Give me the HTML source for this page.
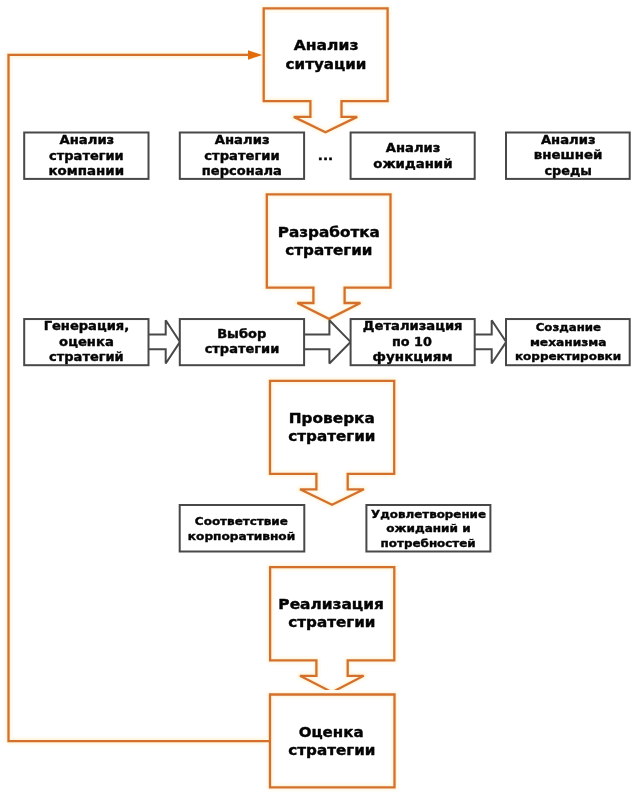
<!DOCTYPE html>
<html lang="ru">
<head>
<meta charset="utf-8">
<title>Стратегия</title>
<style>
html,body{margin:0;padding:0;background:#fff;}
body{width:633px;height:800px;overflow:hidden;}
svg{display:block;will-change:transform;}
text{font-family:"DejaVu Sans", "Liberation Sans", sans-serif;font-weight:bold;fill:#050505;stroke:#050505;stroke-width:0.4px;stroke-linejoin:round;white-space:pre;}
</style>
</head>
<body>
<svg width="633" height="800" viewBox="0 0 633 800">
<path d="M270 741.1 L8.5 741.1 L8.5 54.9 L250 54.9" fill="none" stroke="#fefcf4" stroke-width="9" stroke-linejoin="round"/>
<path d="M270 741.1 L8.5 741.1 L8.5 54.9 L250 54.9" fill="none" stroke="#fdf6e2" stroke-width="5" stroke-linejoin="round"/>
<path d="M263.7 8.4 L387.6 8.4 L387.6 101.1 L341.5 101.1 L341.5 116.9 L357.2 116.9 L325.5 132.3 L293.8 116.9 L310.4 116.9 L310.4 101.1 L263.7 101.1 Z" fill="none" stroke="#fefcf4" stroke-width="9" stroke-linejoin="round"/>
<path d="M263.7 8.4 L387.6 8.4 L387.6 101.1 L341.5 101.1 L341.5 116.9 L357.2 116.9 L325.5 132.3 L293.8 116.9 L310.4 116.9 L310.4 101.1 L263.7 101.1 Z" fill="none" stroke="#fdf6e2" stroke-width="5" stroke-linejoin="round"/>
<path d="M263.7 8.4 L387.6 8.4 L387.6 101.1 L341.5 101.1 L341.5 116.9 L357.2 116.9 L325.5 132.3 L293.8 116.9 L310.4 116.9 L310.4 101.1 L263.7 101.1 Z" fill="none" stroke="#d4702b" stroke-width="2.3" stroke-linejoin="miter" stroke-miterlimit="4"/>
<path d="M266.8 194.4 L390.5 194.4 L390.5 287.6 L344.6 287.6 L344.6 303 L360.4 303 L329 318.9 L297.4 303 L313.4 303 L313.4 287.6 L266.8 287.6 Z" fill="none" stroke="#fefcf4" stroke-width="9" stroke-linejoin="round"/>
<path d="M266.8 194.4 L390.5 194.4 L390.5 287.6 L344.6 287.6 L344.6 303 L360.4 303 L329 318.9 L297.4 303 L313.4 303 L313.4 287.6 L266.8 287.6 Z" fill="none" stroke="#fdf6e2" stroke-width="5" stroke-linejoin="round"/>
<path d="M266.8 194.4 L390.5 194.4 L390.5 287.6 L344.6 287.6 L344.6 303 L360.4 303 L329 318.9 L297.4 303 L313.4 303 L313.4 287.6 L266.8 287.6 Z" fill="none" stroke="#d4702b" stroke-width="2.3" stroke-linejoin="miter" stroke-miterlimit="4"/>
<path d="M270 380.9 L394.2 380.9 L394.2 473.9 L347.7 473.9 L347.7 489.3 L363.9 489.3 L332 504.8 L300 489.3 L316.4 489.3 L316.4 473.9 L270 473.9 Z" fill="none" stroke="#fefcf4" stroke-width="9" stroke-linejoin="round"/>
<path d="M270 380.9 L394.2 380.9 L394.2 473.9 L347.7 473.9 L347.7 489.3 L363.9 489.3 L332 504.8 L300 489.3 L316.4 489.3 L316.4 473.9 L270 473.9 Z" fill="none" stroke="#fdf6e2" stroke-width="5" stroke-linejoin="round"/>
<path d="M270 380.9 L394.2 380.9 L394.2 473.9 L347.7 473.9 L347.7 489.3 L363.9 489.3 L332 504.8 L300 489.3 L316.4 489.3 L316.4 473.9 L270 473.9 Z" fill="none" stroke="#d4702b" stroke-width="2.3" stroke-linejoin="miter" stroke-miterlimit="4"/>
<path d="M270.1 567.2 L394.3 567.2 L394.3 660.3 L347.7 660.3 L347.7 675.8 L363.7 675.8 L332 692.2 L300 675.8 L316.4 675.8 L316.4 660.3 L270.1 660.3 Z" fill="none" stroke="#fefcf4" stroke-width="9" stroke-linejoin="round"/>
<path d="M270.1 567.2 L394.3 567.2 L394.3 660.3 L347.7 660.3 L347.7 675.8 L363.7 675.8 L332 692.2 L300 675.8 L316.4 675.8 L316.4 660.3 L270.1 660.3 Z" fill="none" stroke="#fdf6e2" stroke-width="5" stroke-linejoin="round"/>
<path d="M270.1 567.2 L394.3 567.2 L394.3 660.3 L347.7 660.3 L347.7 675.8 L363.7 675.8 L332 692.2 L300 675.8 L316.4 675.8 L316.4 660.3 L270.1 660.3 Z" fill="none" stroke="#d4702b" stroke-width="2.3" stroke-linejoin="miter" stroke-miterlimit="4"/>
<path d="M270 694.5 L394.5 694.5 L394.5 787.3 L270 787.3 Z" fill="none" stroke="#fefcf4" stroke-width="9" stroke-linejoin="round"/>
<path d="M270 694.5 L394.5 694.5 L394.5 787.3 L270 787.3 Z" fill="none" stroke="#fdf6e2" stroke-width="5" stroke-linejoin="round"/>
<path d="M270 694.5 L394.5 694.5 L394.5 787.3 L270 787.3 Z" fill="none" stroke="#d4702b" stroke-width="2.3" stroke-linejoin="miter" stroke-miterlimit="4"/>
<path d="M270 741.1 L8.5 741.1 L8.5 54.9 L250 54.9" fill="none" stroke="#d4702b" stroke-width="2.3" stroke-linejoin="miter"/>
<path d="M262.3 55 L248 50.3 L248 59.8 Z" fill="#e36c0a"/>
<path d="M148.5 334.45 L165.7 334.45 L165.7 320.3 L180 341.9 L165.7 363.5 L165.7 349.35 L148.5 349.35" fill="#fff" stroke="#484848" stroke-width="2.0" stroke-linejoin="miter" stroke-miterlimit="2"/>
<path d="M304.1 334.45 L329.4 334.45 L329.4 320.3 L350.6 341.9 L329.4 363.5 L329.4 349.35 L304.1 349.35" fill="#fff" stroke="#484848" stroke-width="2.0" stroke-linejoin="miter" stroke-miterlimit="2"/>
<path d="M474.7 334.45 L491.7 334.45 L491.7 320.3 L506.2 341.9 L491.7 363.5 L491.7 349.35 L474.7 349.35" fill="#fff" stroke="#484848" stroke-width="2.0" stroke-linejoin="miter" stroke-miterlimit="2"/>
<rect x="24.2" y="132.5" width="124.3" height="46.4" fill="#fff" stroke="#484848" stroke-width="2.0"/>
<rect x="179.8" y="132.5" width="124.3" height="46.4" fill="#fff" stroke="#484848" stroke-width="2.0"/>
<rect x="350.6" y="132.5" width="124.1" height="46.4" fill="#fff" stroke="#484848" stroke-width="2.0"/>
<rect x="506" y="132.5" width="123.7" height="46.4" fill="#fff" stroke="#484848" stroke-width="2.0"/>
<rect x="24.2" y="319.05" width="124.3" height="46.15" fill="#fff" stroke="#484848" stroke-width="2.0"/>
<rect x="179.8" y="319.05" width="124.3" height="46.15" fill="#fff" stroke="#484848" stroke-width="2.0"/>
<rect x="350.6" y="319.05" width="124.1" height="46.15" fill="#fff" stroke="#484848" stroke-width="2.0"/>
<rect x="506" y="319.05" width="123.7" height="46.15" fill="#fff" stroke="#484848" stroke-width="2.0"/>
<rect x="179.7" y="505" width="124.6" height="46.5" fill="#fff" stroke="#484848" stroke-width="2.0"/>
<rect x="366.4" y="505" width="124" height="46.5" fill="#fff" stroke="#484848" stroke-width="2.0"/>
<text x="293.77" y="49.95" font-size="14.0" textLength="64.68" lengthAdjust="spacingAndGlyphs">Анализ</text>
<text x="285.60" y="68.65" font-size="14.0" textLength="80.80" lengthAdjust="spacingAndGlyphs">ситуации</text>
<text x="277.75" y="236.85" font-size="14.0" textLength="102.16" lengthAdjust="spacingAndGlyphs">Разработка</text>
<text x="285.35" y="254.65" font-size="14.0" textLength="87.14" lengthAdjust="spacingAndGlyphs">стратегии</text>
<text x="288.82" y="422.85" font-size="14.0" textLength="86.02" lengthAdjust="spacingAndGlyphs">Проверка</text>
<text x="288.35" y="440.65" font-size="14.0" textLength="87.14" lengthAdjust="spacingAndGlyphs">стратегии</text>
<text x="278.35" y="608.85" font-size="14.0" textLength="105.63" lengthAdjust="spacingAndGlyphs">Реализация</text>
<text x="288.35" y="626.65" font-size="14.0" textLength="87.14" lengthAdjust="spacingAndGlyphs">стратегии</text>
<text x="298.65" y="736.65" font-size="14.0" textLength="65.03" lengthAdjust="spacingAndGlyphs">Оценка</text>
<text x="288.35" y="754.75" font-size="14.0" textLength="87.14" lengthAdjust="spacingAndGlyphs">стратегии</text>
<text x="59.50" y="143.65" font-size="12.2" textLength="54.78" lengthAdjust="spacingAndGlyphs">Анализ</text>
<text x="49.10" y="159.55" font-size="12.2" textLength="74.60" lengthAdjust="spacingAndGlyphs">стратегии</text>
<text x="48.48" y="175.15" font-size="12.2" textLength="75.69" lengthAdjust="spacingAndGlyphs">компании</text>
<text x="214.72" y="143.65" font-size="12.2" textLength="54.83" lengthAdjust="spacingAndGlyphs">Анализ</text>
<text x="204.28" y="159.55" font-size="12.2" textLength="75.36" lengthAdjust="spacingAndGlyphs">стратегии</text>
<text x="201.85" y="175.15" font-size="12.2" textLength="80.02" lengthAdjust="spacingAndGlyphs">персонала</text>
<text x="317.82" y="159.95" font-size="12.2" textLength="15.25" lengthAdjust="spacingAndGlyphs">...</text>
<text x="385.85" y="151.95" font-size="12.2" textLength="54.47" lengthAdjust="spacingAndGlyphs">Анализ</text>
<text x="373.25" y="167.65" font-size="12.2" textLength="79.21" lengthAdjust="spacingAndGlyphs">ожиданий</text>
<text x="540.90" y="143.65" font-size="12.2" textLength="54.76" lengthAdjust="spacingAndGlyphs">Анализ</text>
<text x="533.83" y="159.35" font-size="12.2" textLength="68.61" lengthAdjust="spacingAndGlyphs">внешней</text>
<text x="544.50" y="175.05" font-size="12.2" textLength="47.45" lengthAdjust="spacingAndGlyphs">среды</text>
<text x="43.65" y="329.85" font-size="12.2" textLength="85.55" lengthAdjust="spacingAndGlyphs">Генерация,</text>
<text x="59.10" y="345.55" font-size="12.2" textLength="54.68" lengthAdjust="spacingAndGlyphs">оценка</text>
<text x="49.10" y="361.15" font-size="12.2" textLength="74.60" lengthAdjust="spacingAndGlyphs">стратегий</text>
<text x="217.20" y="337.65" font-size="12.2" textLength="49.10" lengthAdjust="spacingAndGlyphs">Выбор</text>
<text x="204.65" y="353.35" font-size="12.2" textLength="74.60" lengthAdjust="spacingAndGlyphs">стратегии</text>
<text x="362.85" y="329.95" font-size="12.2" textLength="99.70" lengthAdjust="spacingAndGlyphs">Детализация</text>
<text x="391.90" y="345.55" font-size="12.2" textLength="39.97" lengthAdjust="spacingAndGlyphs">по 10</text>
<text x="372.63" y="361.05" font-size="12.2" textLength="79.89" lengthAdjust="spacingAndGlyphs">функциям</text>
<text x="535.73" y="331.15" font-size="11.2" textLength="65.34" lengthAdjust="spacingAndGlyphs">Создание</text>
<text x="529.90" y="345.65" font-size="11.2" textLength="76.60" lengthAdjust="spacingAndGlyphs">механизма</text>
<text x="514.93" y="360.15" font-size="11.2" textLength="106.18" lengthAdjust="spacingAndGlyphs">корректировки</text>
<text x="194.87" y="525.15" font-size="11.2" textLength="93.04" lengthAdjust="spacingAndGlyphs">Соответствие</text>
<text x="187.82" y="539.75" font-size="11.2" textLength="107.39" lengthAdjust="spacingAndGlyphs">корпоративной</text>
<text x="371.03" y="517.75" font-size="11.2" textLength="115.00" lengthAdjust="spacingAndGlyphs">Удовлетворение</text>
<text x="386.22" y="532.35" font-size="11.2" textLength="84.41" lengthAdjust="spacingAndGlyphs">ожиданий и</text>
<text x="380.62" y="546.95" font-size="11.2" textLength="95.11" lengthAdjust="spacingAndGlyphs">потребностей</text>
</svg>
</body>
</html>
